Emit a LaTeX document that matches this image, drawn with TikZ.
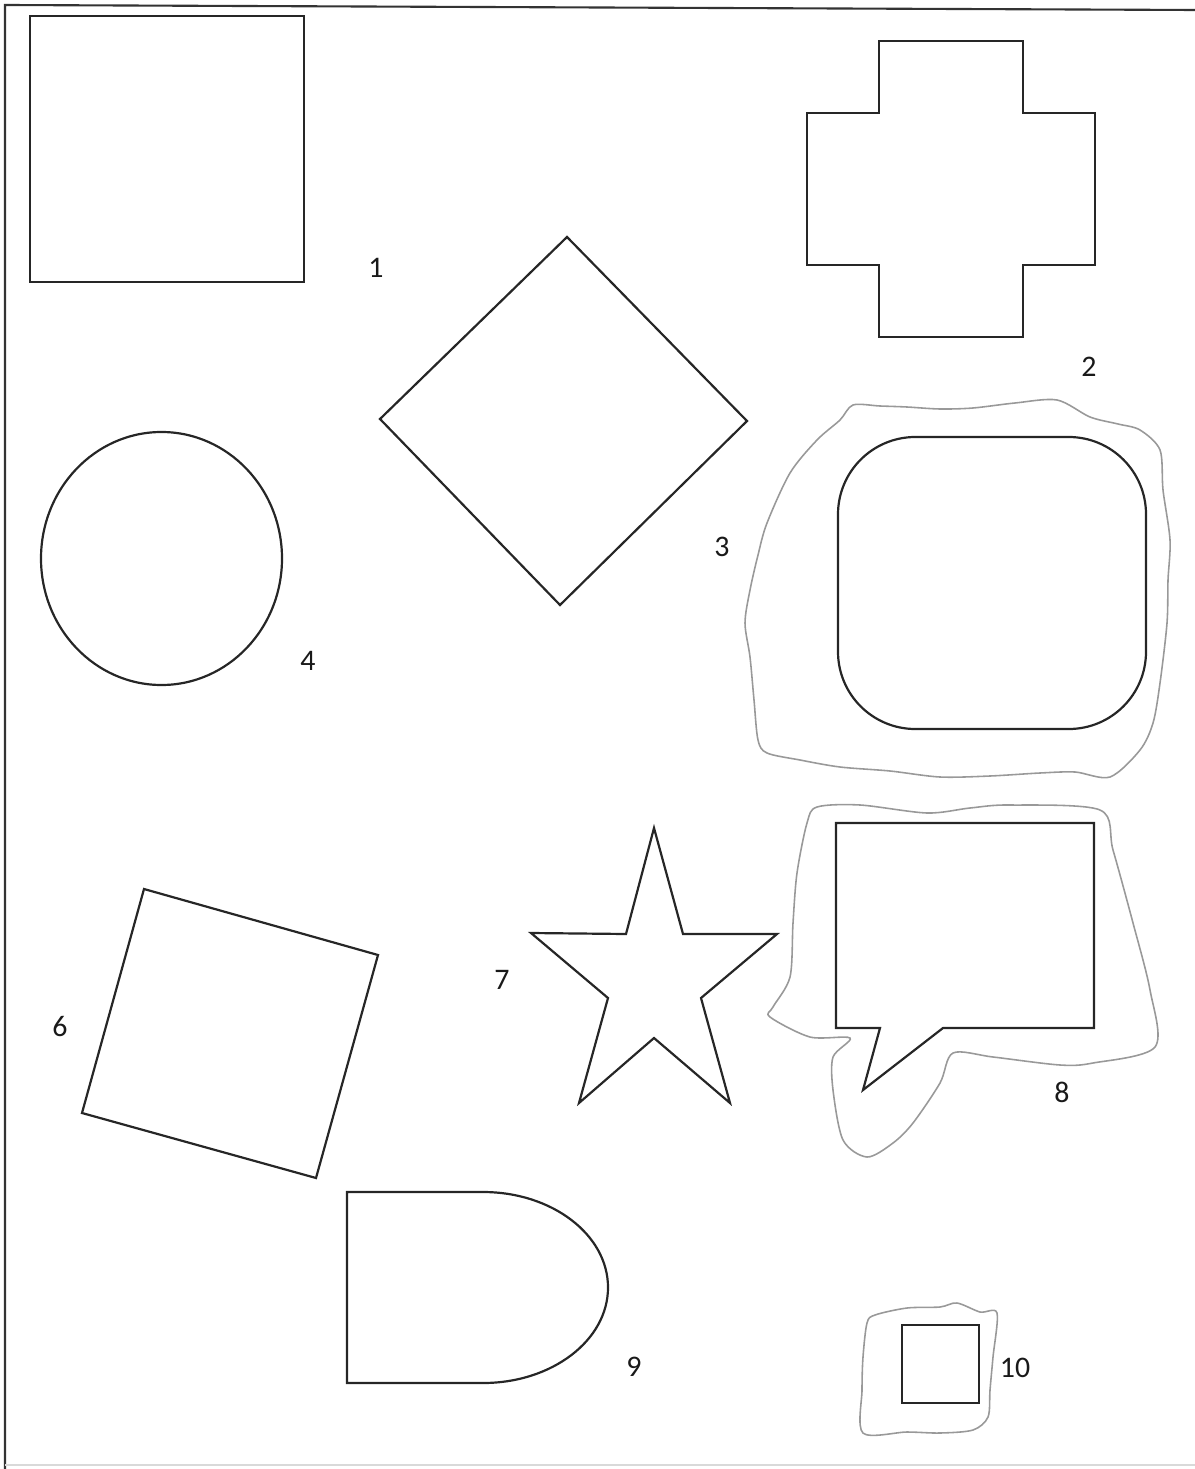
\documentclass[tikz,border=0pt]{standalone}
\usepackage{fontspec}
\setmainfont{Carlito}

\begin{document}
\begin{tikzpicture}[
    x=0.02cm, y=-0.02cm, % work in page pixels, y going down
    outline/.style={draw=black!85, line width=1.25pt, line join=miter}, % style for the shapes
    torn/.style={draw=black!40, line width=0.9pt}, % style for the cut-out paper edges
    num/.style={inner sep=0pt, font=\fontsize{17}{20}\selectfont, text=black!90} % shape numbers
]

    % Page size and scan border
    \useasboundingbox (0,0) rectangle (1195,1469);
    \draw[black!80, line width=1.2pt] (5,1469) -- (5,5) -- (1195,10);
    \draw[black!15, line width=0.8pt] (5,1465) -- (1195,1465);

    % 1: square
    \draw[outline] (30,16) rectangle (304,282);
    \node[num] (lab1) at (376,268) {1};

    % 2: cross
    \draw[outline] (879,41) -- (1023,41) -- (1023,113) -- (1095,113) -- (1095,265)
        -- (1023,265) -- (1023,337) -- (879,337) -- (879,265) -- (807,265)
        -- (807,113) -- (879,113) -- cycle;
    \node[num] (lab2) at (1089,367) {2};

    % diamond (no number)
    \draw[outline] (567,237) -- (747,421) -- (560,605) -- (380,419) -- cycle;

    % 3: rounded square on torn paper
    \draw[torn] plot [smooth cycle, tension=0.5] coordinates {
        (840,420) (853,405) (880,406) (907,407) (940,409) (973,408)
        (1015,403) (1057,400) (1090,417) (1118,424) (1140,430) (1160,450)
        (1163,490) (1170,540) (1168,580) (1167,623) (1160,683) (1153,723)
        (1140,750) (1110,777) (1075,772) (1040,773) (990,776) (940,777)
        (890,771) (840,767) (800,760) (767,753) (758,740) (754,700)
        (750,657) (745,623) (750,590) (758,555) (767,523) (790,473)
        (817,440)
    };
    \draw[outline, rounded corners=44] (838,437) rectangle (1146,729);
    \node[num] (lab3) at (722,547) {3};

    % 4: circle
    \draw[outline] (161.5,558.5) ellipse [x radius=120.5, y radius=126.5];
    \node[num] (lab4) at (308,661) {4};

    % 6: tilted square
    \draw[outline] (144,889) -- (378,955) -- (316,1178) -- (82,1113) -- cycle;
    \node[num] (lab6) at (60,1027) {6};

    % 7: star
    \draw[outline] (654,828) -- (683,934) -- (777,934) -- (701,998) -- (730,1103)
        -- (654,1038) -- (579,1103) -- (608,998) -- (531,933) -- (626,934) -- cycle;
    \node[num] (lab7) at (502,980) {7};

    % 8: speech bubble on torn paper
    \draw[torn] plot [smooth cycle, tension=0.5] coordinates {
        (817,807) (860,805) (927,813) (970,808) (1010,805) (1100,810)
        (1113,850) (1133,923) (1150,990) (1155,1047) (1093,1063) (1060,1065)
        (993,1057) (953,1053) (940,1083) (913,1123) (893,1143) (867,1157)
        (843,1140) (833,1090) (833,1057) (850,1038) (810,1037) (770,1017)
        (773,1007) (790,977) (793,923) (797,873) (807,823)
    };
    \draw[outline] (836,823) -- (1094,823) -- (1094,1028) -- (943,1028)
        -- (863,1090) -- (880,1028) -- (836,1028) -- cycle;
    \node[num] (lab8) at (1062,1092) {8};

    % 9: half-round shape
    \draw[outline] (483,1192) -- (347,1192) -- (347,1383) -- (483,1383)
        arc [start angle=90, end angle=-90, x radius=125, y radius=95.5];
    \node[num] (lab9) at (634,1367) {9};

    % 10: small square on torn paper
    \draw[torn] plot [smooth cycle, tension=0.5] coordinates {
        (875,1315) (907,1308) (940,1307) (957,1303) (980,1312) (997,1313)
        (993,1357) (990,1390) (988,1417) (973,1430) (940,1433) (907,1432)
        (863,1433) (862,1390) (863,1357) (867,1323)
    };
    \draw[outline] (902,1325) rectangle (979,1403);
    \node[num] (lab10) at (1015,1368) {10};

\end{tikzpicture}
\end{document}
